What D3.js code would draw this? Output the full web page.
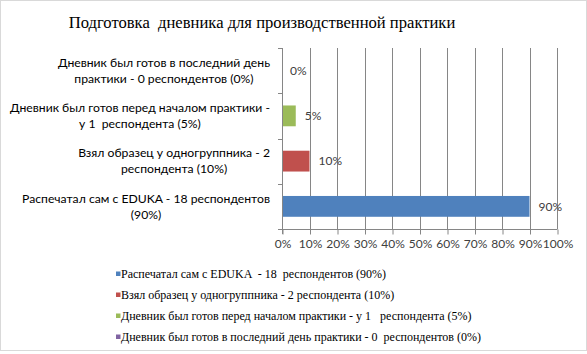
<!DOCTYPE html>
<html>
<head>
<meta charset="utf-8">
<script src="https://cdn.jsdelivr.net/npm/d3@7"></script>
<style>
  body { margin: 0; background: #fff; }
  svg { display: block; }
  text { white-space: pre; }
  .serif { font-family: 'Liberation Serif', 'Times New Roman', serif; }
  .sans { font-family: Lato, 'Open Sans', sans-serif; }
</style>
</head>
<body>
<div class="graph"></div>
<script>
// data, bottom-to-top order as in the source chart
const categories = [
    ['Распечатал сам с EDUKA - 18 респондентов', '(90%)'],
    ['Взял образец у одногруппника - 2', 'респондента (10%)'],
    ['Дневник был готов перед началом практики -', 'у 1  респондента (5%)'],
    ['Дневник был готов в последний день', 'практики - 0 респондентов (0%)']
];
const values = [90, 10, 5, 0];
const legendLabels = [
    'Распечатал сам с EDUKA  - 18  респондентов (90%)',
    'Взял образец у одногруппника - 2 респондента (10%)',
    'Дневник был готов перед началом практики - у 1   респондента (5%)',
    'Дневник был готов в последний день практики - 0  респондентов (0%)'
];
const colors = ['#4F81BD', '#C0504D', '#9BBB59', '#8064A2'];
const xTicks = [0, 10, 20, 30, 40, 50, 60, 70, 80, 90, 100];
const title = 'Подготовка  дневника для производственной практики';

const svgDim = { w: 587, h: 354 };
const plot = { left: 282, right: 557, top: 48, bottom: 229 };

const svg = d3.select('.graph').append('svg')
    .attr('width', svgDim.w).attr('height', svgDim.h);

// chart border
svg.append('rect')
    .attr('x', 0.5).attr('y', 0.5)
    .attr('width', svgDim.w - 1).attr('height', svgDim.h - 4)
    .attr('fill', '#fff').attr('stroke', '#d9d9d9');

svg.append('text')
    .attr('class', 'serif')
    .attr('x', 262).attr('y', 28)
    .attr('text-anchor', 'middle')
    .style('font-size', '16.6px')
    .attr('fill', '#000')
    .text(title);

const xScale = d3.scaleLinear().domain([0, 100]).range([plot.left, plot.right]);
const idx = d3.range(categories.length);
const yScale = d3.scaleBand()
    .domain(idx.slice().reverse())
    .range([plot.top, plot.bottom])
    .paddingInner(0.54).paddingOuter(0.27);

// gridlines
svg.append('g').selectAll('line')
    .data(xTicks.slice(1))
    .enter().append('line')
    .attr('x1', d => Math.round(xScale(d)) + 0.5)
    .attr('x2', d => Math.round(xScale(d)) + 0.5)
    .attr('y1', plot.top).attr('y2', plot.bottom)
    .attr('stroke', '#868686').attr('stroke-width', 1);

// bars
svg.append('g').selectAll('rect')
    .data(idx)
    .enter().append('rect')
    .attr('x', xScale(0))
    .attr('y', i => yScale(i))
    .attr('width', i => xScale(values[i]) - xScale(0))
    .attr('height', yScale.bandwidth())
    .attr('fill', i => colors[i]);

// value labels
svg.append('g').selectAll('text')
    .data(idx)
    .enter().append('text')
    .attr('class', 'sans')
    .attr('x', i => xScale(values[i]) + (values[i] > 0 ? 9 : 8))
    .attr('y', i => yScale(i) + yScale.bandwidth() / 2)
    .attr('dy', '0.35em')
    .style('font-size', '12px')
    .attr('fill', '#404040')
    .text(i => values[i] + '%');

// x axis
const xAxis = d3.axisBottom(xScale)
    .tickValues(xTicks)
    .tickSize(5)
    .tickFormat(d => d + '%');
const gx = svg.append('g')
    .attr('transform', `translate(0.5,${plot.bottom + 0.5})`)
    .call(xAxis);
gx.attr('font-family', null);
gx.select('.domain').attr('stroke', '#868686').attr('d', `M${plot.left},0H${plot.right}`);
gx.selectAll('.tick line').attr('stroke', '#868686');
gx.selectAll('.tick text')
    .attr('class', 'sans')
    .attr('y', 10)
    .style('font-size', '12px')
    .attr('fill', '#404040');

// y axis line and category boundary ticks
svg.append('line')
    .attr('x1', plot.left + 0.5).attr('x2', plot.left + 0.5)
    .attr('y1', plot.top).attr('y2', plot.bottom + 5)
    .attr('stroke', '#868686');
const step = (plot.bottom - plot.top) / categories.length;
svg.append('g').selectAll('line')
    .data(d3.range(categories.length + 1))
    .enter().append('line')
    .attr('x1', plot.left - 4).attr('x2', plot.left)
    .attr('y1', k => Math.round(plot.top + k * step) + 0.5)
    .attr('y2', k => Math.round(plot.top + k * step) + 0.5)
    .attr('stroke', '#868686');

// category labels: block right-aligned at x=270, lines centred in the block
const catG = svg.append('g').selectAll('text')
    .data(idx)
    .enter().append('text')
    .attr('class', 'sans')
    .attr('text-anchor', 'middle')
    .style('font-size', '12.2px')
    .attr('fill', '#000');
catG.each(function (i) {
    const t = d3.select(this);
    const cy = yScale(i) + yScale.bandwidth() / 2;
    const lines = categories[i];
    lines.forEach((ln, j) => {
        t.append('tspan')
            .attr('y', cy + (j - (lines.length - 1) / 2) * 16)
            .attr('dy', '0.35em')
            .text(ln);
    });
    const widths = [];
    t.selectAll('tspan').each(function () { widths.push(this.getComputedTextLength()); });
    const cx = 270 - d3.max(widths) / 2;
    t.selectAll('tspan').attr('x', cx);
});

// legend
const legend = svg.append('g').selectAll('g')
    .data(idx)
    .enter().append('g')
    .attr('transform', i => `translate(116,${274 + i * 21})`);
legend.append('rect')
    .attr('x', 0).attr('y', -2.5)
    .attr('width', 4.5).attr('height', 4.5)
    .attr('fill', i => colors[i]);
legend.append('text')
    .attr('class', 'serif')
    .attr('x', 5).attr('y', 0).attr('dy', '0.35em')
    .style('font-size', '12px')
    .attr('fill', '#000')
    .text(i => legendLabels[i]);
</script>
</body>
</html>
